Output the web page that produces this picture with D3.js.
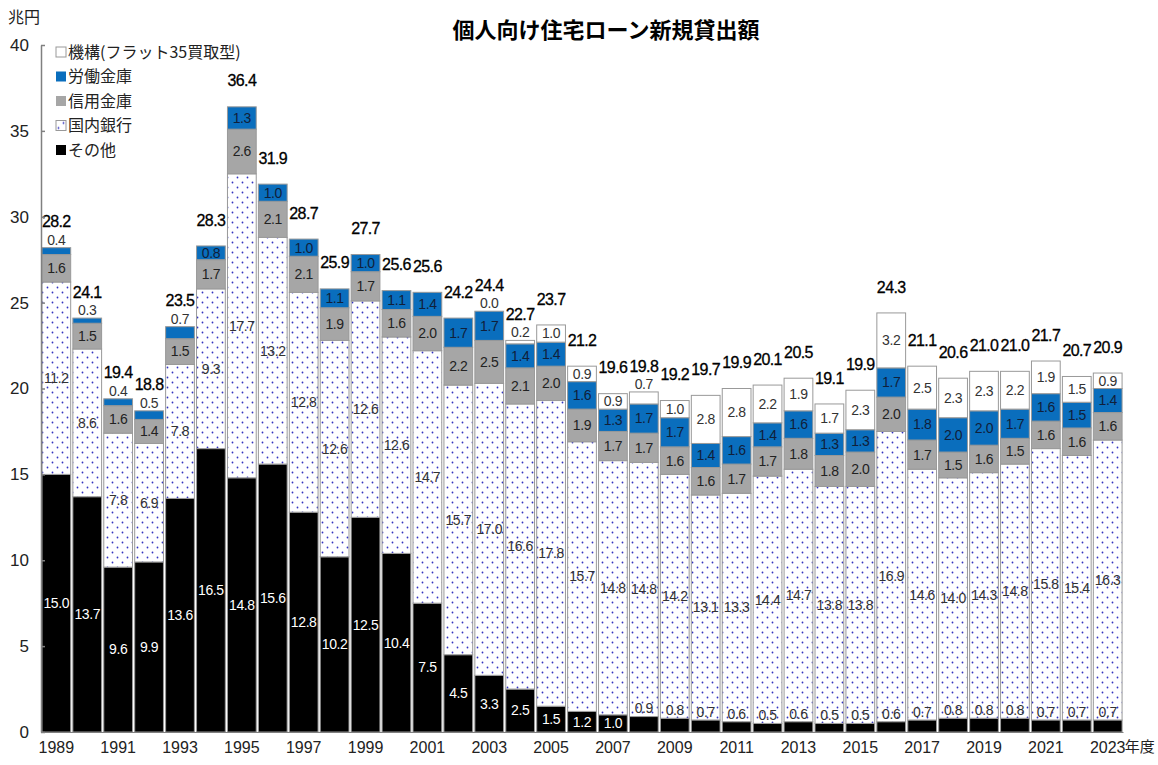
<!DOCTYPE html>
<html>
<head>
<meta charset="utf-8">
<script src="https://cdn.jsdelivr.net/npm/d3@7"></script>
<style>
  body { margin: 0; background: #fff; }
  text { font-family: "Liberation Sans Narrow", "Arial Narrow", "Liberation Sans", sans-serif; }
  .jp { font-family: "Noto Sans CJK JP", sans-serif; }
</style>
</head>
<body>
<script>
// 年度
var years = [1989,1990,1991,1992,1993,1994,1995,1996,1997,1998,1999,2000,2001,2002,2003,2004,2005,
  2006,2007,2008,2009,2010,2011,2012,2013,2014,2015,2016,2017,2018,2019,2020,2021,2022,2023];

// 兆円, stacked bottom -> top
var sonota  = [15.0,13.7,9.6,9.9,13.6,16.5,14.8,15.6,12.8,10.2,12.5,10.4,7.5,4.5,3.3,2.5,1.5,1.2,1.0,
  0.9,0.8,0.7,0.6,0.5,0.6,0.5,0.5,0.6,0.7,0.8,0.8,0.8,0.7,0.7,0.7];
var kokunai = [11.2,8.6,7.8,6.9,7.8,9.3,17.7,13.2,12.8,12.6,12.6,12.6,14.7,15.7,17.0,16.6,17.8,15.7,14.8,
  14.8,14.2,13.1,13.3,14.4,14.7,13.8,13.8,16.9,14.6,14.0,14.3,14.8,15.8,15.4,16.3];
var shinkin = [1.6,1.5,1.6,1.4,1.5,1.7,2.6,2.1,2.1,1.9,1.7,1.6,2.0,2.2,2.5,2.1,2.0,1.9,1.7,
  1.7,1.6,1.6,1.7,1.7,1.8,1.8,2.0,2.0,1.7,1.5,1.6,1.5,1.6,1.6,1.6];
var rokin   = [0.4,0.3,0.4,0.5,0.7,0.8,1.3,1.0,1.0,1.1,1.0,1.1,1.4,1.7,1.7,1.4,1.4,1.6,1.3,
  1.7,1.7,1.4,1.6,1.4,1.6,1.3,1.3,1.7,1.8,2.0,2.0,1.7,1.6,1.5,1.4];
var kikou   = [null,null,null,null,null,null,null,null,null,null,null,null,null,null,0.0,0.2,1.0,0.9,0.9,
  0.7,1.0,2.8,2.8,2.2,1.9,1.7,2.3,3.2,2.5,2.3,2.3,2.2,1.9,1.5,0.9];
var totals  = [28.2,24.1,19.4,18.8,23.5,28.3,36.4,31.9,28.7,25.9,27.7,25.6,25.6,24.2,24.4,22.7,23.7,21.2,19.6,
  19.8,19.2,19.7,19.9,20.1,20.5,19.1,19.9,24.3,21.1,20.6,21.0,21.0,21.7,20.7,20.9];

var yTicks = [0,5,10,15,20,25,30,35,40];
var xTickYears = [1989,1991,1993,1995,1997,1999,2001,2003,2005,2007,2009,2011,2013,2015,2017,2019,2021,2023];

var seriesNames = ["その他","国内銀行","信用金庫","労働金庫","機構(フラット35買取型)"];
var seriesKeys = ["sonota","kokunai","shinkin","rokin","kikou"];

var data = years.map(function(y, i) {
  return {year: y, sonota: sonota[i], kokunai: kokunai[i], shinkin: shinkin[i],
          rokin: rokin[i], kikou: kikou[i] == null ? 0 : kikou[i], hasKikou: kikou[i] != null, total: totals[i]};
});

var width = 1158, height = 765;

var svg = d3.select("body").append("svg")
  .attr("width", width)
  .attr("height", height)
  .style("background-color", "white");

// dotted fill for 国内銀行
var defs = svg.append("defs");
var pat = defs.append("pattern")
  .attr("id", "dots")
  .attr("patternUnits", "userSpaceOnUse")
  .attr("width", 10).attr("height", 10);
pat.append("rect").attr("width", 10).attr("height", 10).attr("fill", "white");
pat.append("circle").attr("cx", 2.5).attr("cy", 2.5).attr("r", 0.9).attr("fill", "#3434c0");
pat.append("circle").attr("cx", 7.5).attr("cy", 7.5).attr("r", 0.9).attr("fill", "#3434c0");

var fills = {sonota: "#000000", kokunai: "url(#dots)", shinkin: "#a6a6a6", rokin: "#0a6ebd", kikou: "#ffffff"};
var labelColor = {sonota: "#ffffff", kokunai: "#333333", shinkin: "#222222", rokin: "#10203a", kikou: "#333333"};

var x = d3.scaleBand()
  .domain(years)
  .range([41, 1123])
  .paddingInner(0.07)
  .paddingOuter(0.03);

var y = d3.scaleLinear()
  .domain([0, 40])
  .range([732, 45]);

var stack = d3.stack().keys(seriesKeys);
var stacked = stack(data);

// bars
var layers = svg.append("g").selectAll("g")
  .data(stacked)
  .enter().append("g")
  .attr("fill", function(d) { return fills[d.key]; });

layers.selectAll("rect")
  .data(function(d) { return d.map(function(p) { p.key = d.key; return p; }); })
  .enter().append("rect")
  .filter(function(d) { return d.key != "kikou" || d.data.hasKikou; })
  .attr("x", function(d) { return x(d.data.year); })
  .attr("y", function(d) { return y(d[1]); })
  .attr("width", x.bandwidth())
  .attr("height", function(d) { return y(d[0]) - y(d[1]); })
  .attr("stroke", "#999999")
  .attr("stroke-width", 1);

// segment labels
var labelG = svg.append("g").attr("text-anchor", "middle")
  .style("font-size", "14px").style("letter-spacing", "-0.4px");
stacked.forEach(function(layer) {
  layer.forEach(function(p) {
    var k = layer.key;
    var v = p.data[k];
    if (k == "kikou" && !p.data.hasKikou) return;
    var cx = x(p.data.year) + x.bandwidth() / 2;
    var isTop = (k == "kikou") || (k == "rokin" && !p.data.hasKikou);
    var above = (isTop && v < 0.8) || (k == "sonota" && v < 1.0);
    var cy, col;
    if (above) {
      cy = y(p[1]) - 8;
      col = "#333333";
    } else {
      cy = (y(p[0]) + y(p[1])) / 2;
      col = labelColor[k];
    }
    labelG.append("text")
      .attr("x", cx)
      .attr("y", cy)
      .attr("dy", "0.35em")
      .attr("fill", col)
      .text(v.toFixed(1));
  });
});

// totals
svg.append("g")
  .attr("text-anchor", "middle")
  .selectAll("text")
  .data(data)
  .enter().append("text")
  .attr("x", function(d) { return x(d.year) + x.bandwidth() / 2; })
  .attr("y", function(d) { return y(d.sonota + d.kokunai + d.shinkin + d.rokin + d.kikou) - 26; })
  .attr("dy", "0.35em")
  .style("font-size", "16px")
  .style("letter-spacing", "-0.6px")
  .attr("fill", "#000")
  .attr("stroke", "#000")
  .attr("stroke-width", 0.3)
  .text(function(d) { return d.total.toFixed(1); });

// y axis
var yAxis = svg.append("g")
  .attr("transform", "translate(41,0)")
  .call(d3.axisLeft(y).tickValues(yTicks).tickSizeInner(-4).tickSizeOuter(0).tickPadding(12));
yAxis.select(".domain").attr("stroke", "#808080").attr("stroke-width", 1.5);
yAxis.selectAll(".tick line").attr("stroke", "#808080").attr("stroke-width", 1.5);
yAxis.selectAll("text").style("font-size", "17px").attr("fill", "#222")
  .style("font-family", "'Liberation Sans Narrow', 'Arial Narrow', sans-serif");

// x axis
var xAxis = svg.append("g")
  .attr("transform", "translate(0,732)")
  .call(d3.axisBottom(x).tickValues(xTickYears).tickSize(0).tickPadding(10));
xAxis.select(".domain").attr("stroke", "#808080");
xAxis.selectAll("text").style("font-size", "16px").attr("fill", "#222")
  .style("font-family", "'Liberation Sans Narrow', 'Arial Narrow', sans-serif");

svg.append("text")
  .attr("class", "jp")
  .attr("x", x(2023) + x.bandwidth() / 2 + 17)
  .attr("y", 752)
  .style("font-size", "15px")
  .attr("fill", "#222")
  .text("年度");

// unit
svg.append("text")
  .attr("class", "jp")
  .attr("x", 8)
  .attr("y", 23)
  .style("font-size", "16px")
  .attr("fill", "#222")
  .text("兆円");

// title
svg.append("text")
  .attr("class", "jp")
  .attr("x", 606)
  .attr("y", 38)
  .attr("text-anchor", "middle")
  .style("font-size", "22px")
  .style("font-weight", "bold")
  .attr("fill", "#000")
  .text("個人向け住宅ローン新規貸出額");

// legend (top series first)
var legendOrder = [4, 3, 2, 1, 0];
var legend = svg.append("g").attr("transform", "translate(56,52)");
legendOrder.forEach(function(si, i) {
  var g = legend.append("g").attr("transform", "translate(0," + (i * 24.5) + ")");
  g.append("rect")
    .attr("x", 0).attr("y", -5)
    .attr("width", 10).attr("height", 10)
    .attr("fill", fills[seriesKeys[si]])
    .attr("stroke", seriesKeys[si] == "kikou" || seriesKeys[si] == "kokunai" ? "#999" : "none");
  g.append("text")
    .attr("class", "jp")
    .attr("x", 12)
    .attr("y", 0)
    .attr("dy", "0.36em")
    .style("font-size", "16px")
    .attr("fill", "#222")
    .text(seriesNames[si]);
});
</script>
</body>
</html>
